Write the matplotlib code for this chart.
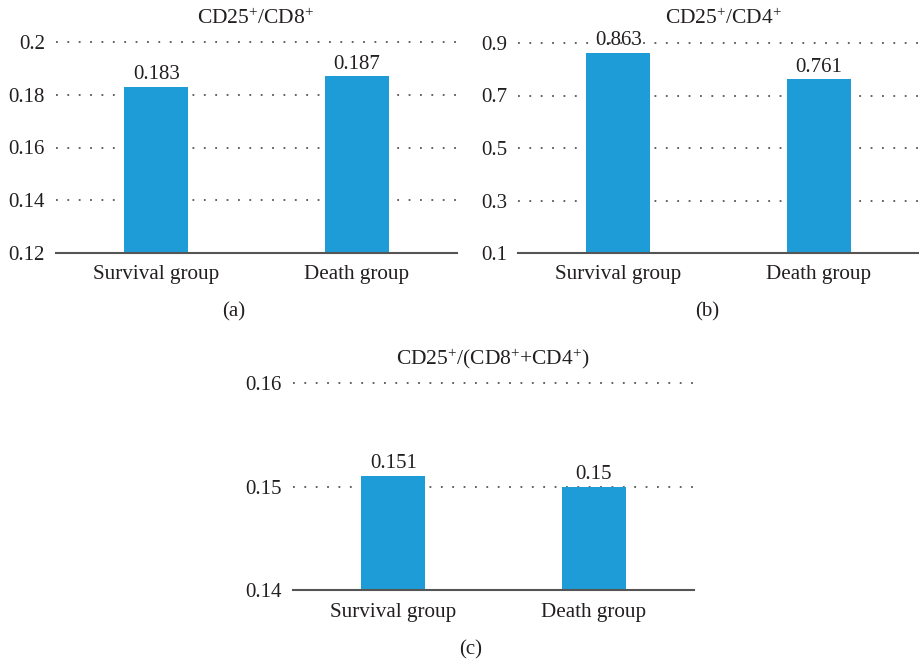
import matplotlib
matplotlib.use("Agg")
import matplotlib.pyplot as plt

plt.rcParams['font.family'] = ['Liberation Serif', 'DejaVu Serif']
plt.rcParams['mathtext.fontset'] = 'custom'
plt.rcParams['mathtext.rm'] = 'Liberation Serif'
plt.rcParams['mathtext.it'] = 'Liberation Serif:italic'

groups = ['Survival group', 'Death group']

cd8_vals = [0.183, 0.187]
cd8_ticks = [0.12, 0.14, 0.16, 0.18, 0.2]
cd8_ticklabels = ['0.12', '0.14', '0.16', '0.18', '0.2']

cd4_vals = [0.863, 0.761]
cd4_ticks = [0.1, 0.3, 0.5, 0.7, 0.9]
cd4_ticklabels = ['0.1', '0.3', '0.5', '0.7', '0.9']

both_vals = [0.151, 0.15]
both_ticks = [0.14, 0.15, 0.16]
both_ticklabels = ['0.14', '0.15', '0.16']

bar_color = '#1e9cd7'
text_color = '#231f20'
W, H = 919, 661


def px_axes(fig, x0, x1, ytop, ybot):
    return fig.add_axes([x0 / W, (H - ybot) / H, (x1 - x0) / W, (ybot - ytop) / H])


def draw_panel(ax, vals, ticks, ticklabels):
    x = list(range(len(groups)))
    ax.bar(x, vals, width=0.32, color=bar_color, zorder=3)
    ax.set_xlim(-0.5, 1.5)
    ax.set_ylim(ticks[0], ticks[-1])
    ax.set_yticks(ticks)
    ax.set_yticklabels(ticklabels, fontsize=15)
    ax.set_xticks(x)
    ax.set_xticklabels(groups, fontsize=15.2)
    for s in ['top', 'right', 'left']:
        ax.spines[s].set_visible(False)
    ax.spines['bottom'].set_color('#555555')
    ax.spines['bottom'].set_linewidth(1.5)
    ax.spines['bottom'].set_zorder(4)
    ax.tick_params(axis='both', length=0, colors=text_color)
    ax.tick_params(axis='x', pad=9)
    ax.tick_params(axis='y', pad=8)
    for t in ticks[1:]:
        ax.axhline(t, color='#555555', lw=1.3, ls=(0, (1, 5.3)), zorder=1, clip_on=False)
    for xi, v in zip(x, vals):
        ax.annotate(f'{v:g}', (xi, v), xytext=(0, 2), textcoords='offset points',
                    ha='center', va='bottom', fontsize=15, color=text_color)


fig = plt.figure(figsize=(W / 100, H / 100), dpi=100)

ax_a = px_axes(fig, 56, 457, 42, 253)
draw_panel(ax_a, cd8_vals, cd8_ticks, cd8_ticklabels)

ax_b = px_axes(fig, 518, 919, 43, 253)
draw_panel(ax_b, cd4_vals, cd4_ticks, cd4_ticklabels)

ax_c = px_axes(fig, 293, 694, 383, 590)
draw_panel(ax_c, both_vals, both_ticks, both_ticklabels)

# panel titles and letters
fig.text(256 / W, 1 - 19 / H, r'CD25$^{+}$/CD8$^{+}$', ha='center', va='center', fontsize=15.5, color=text_color)
fig.text(724 / W, 1 - 19 / H, r'CD25$^{+}$/CD4$^{+}$', ha='center', va='center', fontsize=15.5, color=text_color)
fig.text(493 / W, 1 - 359 / H, r'CD25$^{+}$/(CD8$^{+}$+CD4$^{+}$)', ha='center', va='center', fontsize=15.5, color=text_color)

fig.text(234 / W, 1 - 312 / H, '(a)', ha='center', va='center', fontsize=15, color=text_color)
fig.text(707 / W, 1 - 312 / H, '(b)', ha='center', va='center', fontsize=15, color=text_color)
fig.text(471 / W, 1 - 650 / H, '(c)', ha='center', va='center', fontsize=15, color=text_color)

fig.savefig('out.png', dpi=100)
